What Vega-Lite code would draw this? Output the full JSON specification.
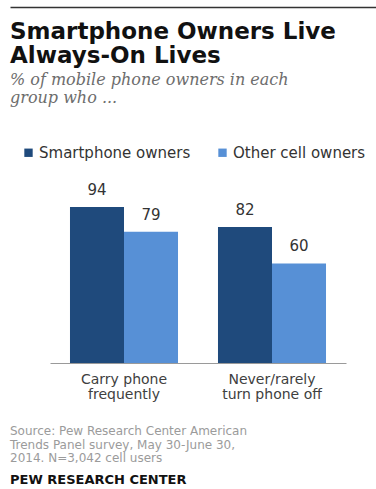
{
  "$schema": "https://vega.github.io/schema/vega-lite/v6.json",
  "padding": {"left": 10, "top": 7, "right": 0, "bottom": 0},
  "background": "white",
  "spacing": -7,
  "title": {
    "text": ["Source: Pew Research Center American", "Trends Panel survey, May 30-June 30,", "2014. N=3,042 cell users"],
    "subtitle": "PEW RESEARCH CENTER",
    "orient": "bottom",
    "anchor": "start",
    "offset": 25,
    "font": "DejaVu Sans",
    "fontSize": 12,
    "fontWeight": "normal",
    "color": "#9b9b9b",
    "lineHeight": 13.5,
    "subtitleFont": "DejaVu Sans",
    "subtitleFontWeight": "bold",
    "subtitleFontSize": 13,
    "subtitleColor": "#111111",
    "subtitlePadding": 9
  },
  "vconcat": [
    {
      "width": 366,
      "height": 0,
      "data": {"values": [{"v": 0}]},
      "mark": {"type": "point", "opacity": 0, "size": 0},
      "encoding": {
        "x": {
          "field": "v",
          "type": "quantitative",
          "scale": {"domain": [0, 1], "nice": false, "zero": false},
          "axis": {"orient": "top", "labels": false, "ticks": false, "tickSize": 0, "labelPadding": 0, "minExtent": 0, "maxExtent": 0, "grid": false, "title": null, "domainColor": "#333333", "domainWidth": 1.5}
        }
      }
    },
    {
      "width": 366,
      "height": 166,
      "title": {
        "text": ["Smartphone Owners Live", "Always-On Lives"],
        "subtitle": ["% of mobile phone owners in each", "group who ..."],
        "anchor": "start",
        "frame": "group",
        "font": "DejaVu Sans",
        "fontSize": 23,
        "fontWeight": "bold",
        "color": "#111111",
        "lineHeight": 24,
        "subtitleFont": "DejaVu Serif",
        "subtitleFontStyle": "italic",
        "subtitleFontSize": 16,
        "subtitleColor": "#6d6d6d",
        "subtitleLineHeight": 18,
        "subtitlePadding": 4,
        "offset": 77
      },
      "data": {
        "values": [
          {"activity": "Carry phone frequently", "group": "Smartphone owners", "pct": 94},
          {"activity": "Carry phone frequently", "group": "Other cell owners", "pct": 79},
          {"activity": "Never/rarely turn phone off", "group": "Smartphone owners", "pct": 82},
          {"activity": "Never/rarely turn phone off", "group": "Other cell owners", "pct": 60}
        ]
      },
      "encoding": {
        "x": {
          "field": "activity",
          "type": "nominal",
          "sort": null,
          "scale": {"range": [40, 336], "paddingInner": 0, "paddingOuter": 0},
          "axis": {
            "title": null,
            "labelAngle": 0,
            "ticks": false,
            "domainColor": "#9a9a9a",
            "domainWidth": 1,
            "labelFont": "DejaVu Sans",
            "labelFontSize": 14,
            "labelColor": "#404040",
            "labelLineHeight": 15,
            "labelPadding": 9,
            "labelExpr": "datum.value == 'Carry phone frequently' ? ['Carry phone', 'frequently'] : ['Never/rarely', 'turn phone off']"
          }
        },
        "xOffset": {
          "field": "group",
          "type": "nominal",
          "sort": ["Smartphone owners", "Other cell owners"],
          "scale": {"paddingInner": 0, "paddingOuter": 0.37}
        },
        "y": {
          "field": "pct",
          "type": "quantitative",
          "scale": {"domain": [0, 100], "nice": false},
          "axis": null
        }
      },
      "layer": [
        {
          "mark": {"type": "bar"},
          "encoding": {
            "color": {
              "field": "group",
              "type": "nominal",
              "sort": ["Smartphone owners", "Other cell owners"],
              "scale": {"domain": ["Smartphone owners", "Other cell owners"], "range": ["#1f4a7c", "#5790d6"]},
              "legend": {
                "orient": "none",
                "legendX": 11,
                "legendY": 138,
                "direction": "horizontal",
                "title": null,
                "symbolType": "square",
                "symbolSize": 70,
                "symbolStrokeWidth": 0,
                "symbolOffset": 0,
                "labelFont": "DejaVu Sans",
                "labelFontSize": 15,
                "labelColor": "#333333",
                "labelOffset": 3,
                "columnPadding": 24,
                "padding": 0
              }
            }
          }
        },
        {
          "mark": {"type": "text", "baseline": "bottom", "dy": -9, "font": "DejaVu Sans", "fontSize": 15, "color": "#333333"},
          "encoding": {
            "text": {"field": "pct", "type": "quantitative"}
          }
        }
      ]
    }
  ],
  "config": {
    "view": {"stroke": null},
    "axis": {"grid": false}
  }
}
